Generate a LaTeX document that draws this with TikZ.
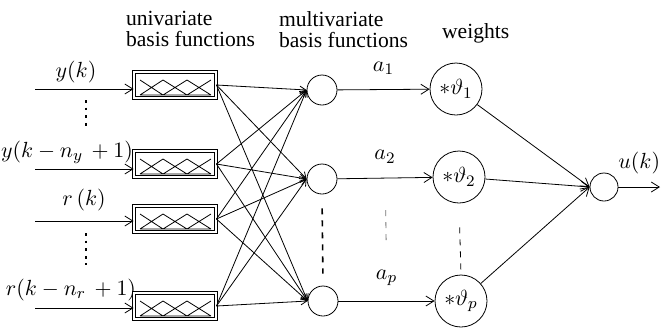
\documentclass[tikz,border=0pt]{standalone}
\usepackage{fontspec}
\setmainfont{Liberation Serif}
\usetikzlibrary{arrows.meta}

\tikzset{
  mfs/.pic={
    \draw[thin] (-35,10) -- (-12,-5) -- (12,10) -- (36,-5)
                (-35,-5) -- (-12,10) -- (12,-5) -- (36,10)
                (-35,10) -- (36,10);
  }
}

\begin{document}
\begin{tikzpicture}[
  x=0.5pt, y=-0.5pt,
  font=\fontsize{10.8}{10.5}\selectfont,
  ubox/.style={
    draw,
    line width=0.45pt,
    double,
    double distance=0.9pt,
    minimum width=41pt,
    minimum height=13pt,
    inner sep=0pt
  },
  mnode/.style={draw, circle, minimum size=15pt, inner sep=0pt},
  wnode/.style={draw, circle, minimum size=26pt, inner sep=0pt},
  onode/.style={draw, circle, minimum size=14pt, inner sep=0pt},
  arrow/.style={-{Straight Barb[length=4pt,width=5pt]}, thin},
  fan/.style={-{Straight Barb[length=3pt,width=3.5pt]}, thin},
  heading/.style={anchor=north west, align=left},
  vdots/.style={line width=1.4pt, dash pattern=on 1.4pt off 2.4pt},
  gaps/.style={dashed, thin}
]
\useasboundingbox (0,0) rectangle (664,328);

% Headings
\node[heading] (huni) at (119,4) {univariate\\basis functions};
\node[heading] (hmulti) at (272,4) {multivariate\\basis functions};
\node[heading] (hweight) at (435,16) {weights};

% Inputs
\node (ly1) at (76,72) {$y(k)$};
\node (ly2) at (67,152) {$y(k-n_y\,+1)$};
\node (lr1) at (84,200) {$r\,(k)$};
\node (lr2) at (71,290) {$r(k-n_r\,+1)$};
\coordinate (iy1) at (35,89);
\coordinate (iy2) at (35,169);
\coordinate (ir1) at (35,221);
\coordinate (ir2) at (35,308);

\draw[vdots] (86,100) -- (86,130);
\draw[vdots] (86,233) -- (86,265);

% Univariate basis functions
\node[ubox] (u1) at (175,85) {};
\node[ubox] (u2) at (175,164) {};
\node[ubox] (u3) at (175,219) {};
\node[ubox] (u4) at (175,306) {};
\pic at (u1) {mfs};
\pic at (u2) {mfs};
\pic at (u3) {mfs};
\pic at (u4) {mfs};

\draw[arrow] (iy1) -- (u1.west |- iy1);
\draw[arrow] (iy2) -- (u2.west |- iy2);
\draw[arrow] (ir1) -- (u3.west |- ir1);
\draw[arrow] (ir2) -- (u4.west |- ir2);

% Multivariate basis functions
\node[mnode] (m1) at (322,90) {};
\node[mnode] (m2) at (322,179) {};
\node[mnode] (m3) at (323,301) {};

\draw[fan] (u1.east) -- (m1.west);
\draw[fan] (u1.east) -- (m2.west);
\draw[fan] (u1.east) -- (m3.west);
\draw[fan] (u2.east) -- (m1.west);
\draw[fan] (u2.east) -- (m2.west);
\draw[fan] (u2.east) -- (m3.west);
\draw[fan] (u3.east) -- (m1.west);
\draw[fan] (u3.east) -- (m2.west);
\draw[fan] (u3.east) -- (m3.west);
\draw[fan] (u4.east) -- (m1.west);
\draw[fan] (u4.east) -- (m2.west);
\draw[fan] (u4.east) -- (m3.west);

% Weights
\node[wnode] (w1) at (456,89) {$*\vartheta_1$};
\node[wnode] (w2) at (459,177) {$*\vartheta_2$};
\node[wnode] (w3) at (461,301) {$*\vartheta_p$};

\draw[arrow] (m1) -- node[above=4pt] (a1) {$a_1$} (w1);
\draw[arrow] (m2) -- node[above=4pt] (a2) {$a_2$} (w2);
\draw[arrow] (m3) -- node[above=4pt] (ap) {$a_p$} (w3);

\draw[gaps, line width=0.8pt, shorten <=7pt, shorten >=6pt] (m2.south) -- (m3.north);
\draw[gaps, draw=black!55, shorten <=20pt, shorten >=10pt] (a2.south) -- (ap.north);
\draw[gaps, shorten <=12pt] (w2.south) -- (w3.north);

% Output
\node[onode] (o) at (604,187) {};
\coordinate (uout) at (660,187);

\draw[arrow] (w1) -- (o.west);
\draw[arrow] (w2) -- (o.west);
\draw[arrow] (w3) -- (o.west);
\draw[arrow] (o) -- node[above=3pt] (lu) {$u(k)$} (uout);

\end{tikzpicture}
\end{document}
